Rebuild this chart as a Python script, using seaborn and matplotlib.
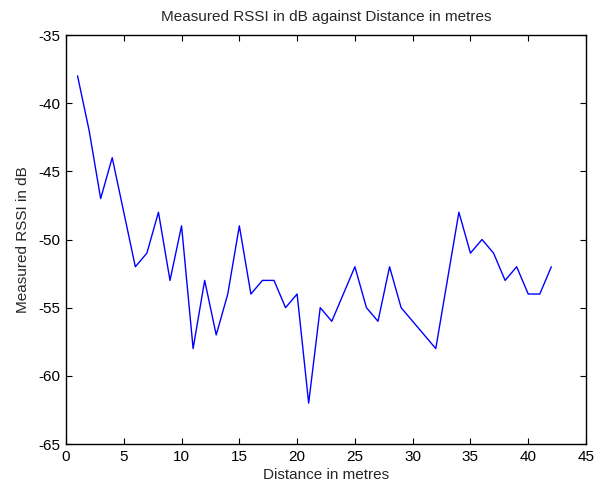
import pandas as pd
import matplotlib
matplotlib.use("Agg")
import matplotlib.pyplot as plt
import seaborn as sns

distance = list(range(1, 43))
rssi = [-38, -42, -47, -44, -48, -52, -51, -48, -53, -49,
        -58, -53, -57, -54, -49, -54, -53, -53, -55, -54,
        -62, -55, -56, -54, -52, -55, -56, -52, -55, -56,
        -57, -58, -53, -48, -51, -50, -51, -53, -52, -54,
        -54, -52]

df = pd.DataFrame({'distance': distance, 'rssi': rssi})

sns.set_style('ticks')
plt.rcParams['font.family'] = ['Liberation Sans', 'DejaVu Sans']
plt.rcParams['axes.unicode_minus'] = False
fs = 11

fig = plt.figure(figsize=(6.02, 4.86), dpi=100)
ax = fig.add_axes([66 / 602, 1 - 444 / 486, 520 / 602, 409 / 486])

sns.lineplot(data=df, x='distance', y='rssi', color='#0000ff', linewidth=1.0, ax=ax)

ax.set_xlim(0, 45)
ax.set_ylim(-65, -35)
ax.set_xticks(range(0, 46, 5))
ax.set_yticks(range(-65, -34, 5))
ax.set_title('Measured RSSI in dB against Distance in metres', fontsize=fs, pad=10)
ax.set_xlabel('Distance in metres', fontsize=fs, labelpad=3)
ax.set_ylabel('Measured RSSI in dB', fontsize=fs, labelpad=6)

for s in ax.spines.values():
    s.set_visible(True)
    s.set_linewidth(1.0)
    s.set_color('black')
ax.tick_params(direction='in', length=4, width=0.8, top=True, right=True,
               labelsize=fs, colors='black', pad=4)

fig.savefig('out.png', dpi=100)
